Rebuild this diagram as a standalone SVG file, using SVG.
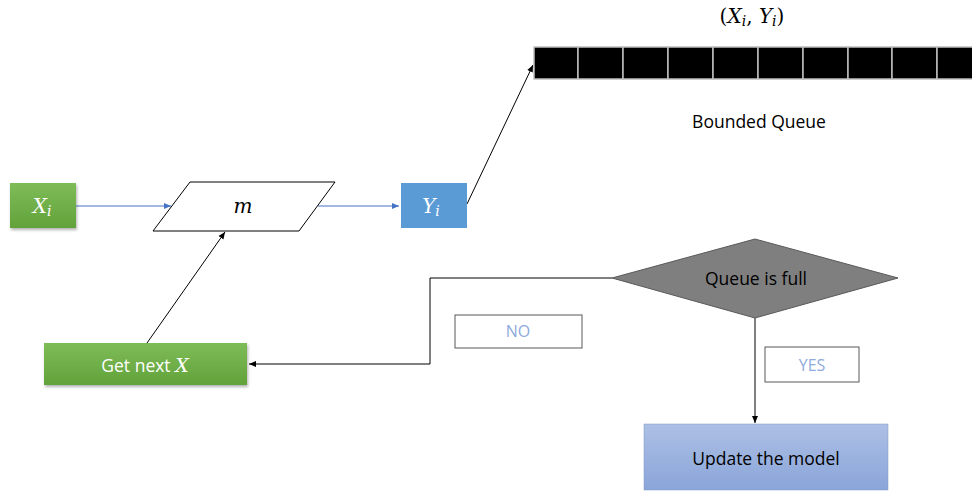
<svg xmlns="http://www.w3.org/2000/svg" width="972" height="491" viewBox="0 0 972 491">
<defs>
<linearGradient id="green" x1="0" y1="0" x2="0" y2="1"><stop offset="0" stop-color="#7ebc58"/><stop offset="1" stop-color="#62a23a"/></linearGradient>
<linearGradient id="blue2" x1="0" y1="0" x2="0" y2="1"><stop offset="0" stop-color="#adc0e5"/><stop offset="1" stop-color="#8aa5d9"/></linearGradient>
<filter id="sh" x="-10%" y="-10%" width="125%" height="130%"><feDropShadow dx="1" dy="2" stdDeviation="1.5" flood-color="#000" flood-opacity="0.3"/></filter>
<marker id="ab" markerWidth="8" markerHeight="8" refX="7" refY="4" orient="auto" markerUnits="userSpaceOnUse"><path d="M0,1 L7,4 L0,7 z" fill="#4472c4"/></marker>
<marker id="ak" markerWidth="8" markerHeight="8" refX="7" refY="4" orient="auto" markerUnits="userSpaceOnUse"><path d="M0,1 L7,4 L0,7 z" fill="#000"/></marker>
</defs>
<style>
.t{font-family:"Open Sans","Liberation Sans",sans-serif;font-size:17.5px;text-anchor:middle;dominant-baseline:central}
.m{font-family:"DejaVu Serif",serif;font-style:italic;font-size:20px;text-anchor:middle;dominant-baseline:central}
.s{font-size:14px}
.up{font-style:normal}
.lbl{fill:#8faadc;font-size:16px}
.cell{fill:#000;stroke:#bfbfbf;stroke-width:1.5}
</style>
<g id="connectors" fill="none" stroke-width="1">
<line x1="76" y1="206" x2="171" y2="206" stroke="#4472c4" marker-end="url(#ab)"/>
<line x1="318" y1="206" x2="399" y2="206" stroke="#4472c4" marker-end="url(#ab)"/>
<line x1="467" y1="204" x2="533" y2="65" stroke="#000" marker-end="url(#ak)"/>
<line x1="147" y1="343" x2="225" y2="232" stroke="#000" marker-end="url(#ak)"/>
<polyline points="612,278 430,278 430,364 249,364" stroke="#000" marker-end="url(#ak)"/>
<line x1="755" y1="318" x2="755" y2="423" stroke="#000" marker-end="url(#ak)"/>
</g>
<g id="xi"><rect x="10" y="183" width="66" height="45" fill="url(#green)" filter="url(#sh)"/>
<text class="m" x="42" y="206" fill="#fff">X<tspan class="s" dy="5">i</tspan></text></g>
<g id="m"><polygon points="190,182 335,182 299,231 153,231" fill="#fff" stroke="#000" stroke-width="1"/>
<text class="m" x="243" y="206" fill="#000">m</text></g>
<g id="yi"><rect x="401" y="183" width="66" height="45" fill="#5b9bd5"/>
<text class="m" x="431" y="206" fill="#fff">Y<tspan class="s" dy="5">i</tspan></text></g>
<g id="queue">
<rect class="cell" x="534" y="47" width="44" height="32"/>
<rect class="cell" x="578" y="47" width="45" height="32"/>
<rect class="cell" x="623" y="47" width="45" height="32"/>
<rect class="cell" x="668" y="47" width="45" height="32"/>
<rect class="cell" x="713" y="47" width="45" height="32"/>
<rect class="cell" x="758" y="47" width="45" height="32"/>
<rect class="cell" x="803" y="47" width="45" height="32"/>
<rect class="cell" x="848" y="47" width="44" height="32"/>
<rect class="cell" x="892" y="47" width="45" height="32"/>
<rect class="cell" x="937" y="47" width="45" height="32"/>
<text class="m" x="752" y="16" fill="#000"><tspan class="up">(</tspan>X<tspan class="s" dy="5">i</tspan><tspan class="up" dy="-5">, </tspan>Y<tspan class="s" dy="5">i</tspan><tspan class="up" dy="-5">)</tspan></text>
<text class="t" x="759" y="121" fill="#000">Bounded Queue</text>
</g>
<g id="getnext"><rect x="44" y="343" width="203" height="42" fill="url(#green)" filter="url(#sh)"/>
<text class="t" x="145" y="365" fill="#fff">Get next <tspan font-family="DejaVu Serif,serif" font-style="italic" font-size="19">X</tspan></text></g>
<g id="no"><rect x="455" y="315" width="127" height="33" fill="#fff" stroke="#595959" stroke-width="1"/>
<text class="t lbl" x="518" y="331">NO</text></g>
<g id="decision"><polygon points="612,278 755,239 898,278 755,318" fill="#7f7f7f" stroke="#595959" stroke-width="1"/>
<text class="t" x="756" y="278" fill="#000">Queue is full</text></g>
<g id="yes"><rect x="765" y="347" width="94" height="35" fill="#fff" stroke="#595959" stroke-width="1"/>
<text class="t lbl" x="812" y="365">YES</text></g>
<g id="update"><rect x="644" y="424" width="244" height="66" fill="url(#blue2)" stroke="#7f98c8" stroke-width="0.5"/>
<text class="t" x="766" y="458" fill="#000">Update the model</text></g>
</svg>
